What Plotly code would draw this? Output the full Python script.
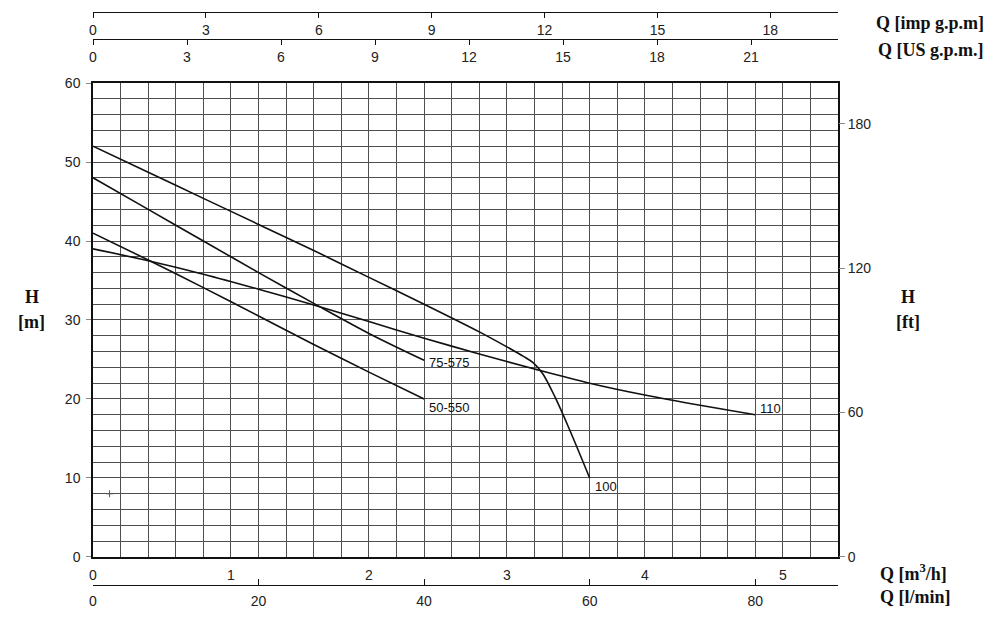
"""Pump performance curves H vs Q, with secondary unit axes."""

import plotly.graph_objects as go

# Flow in m3/h, head in m
q_50_550 = [0, 0.4, 0.8, 1.2, 1.6, 2.0, 2.4]
h_50_550 = [41, 37.6, 34.1, 30.5, 26.9, 23.4, 20]

q_75_575 = [0, 0.4, 0.8, 1.2, 1.6, 2.0, 2.4]
h_75_575 = [48, 44, 40, 36, 32.1, 28.3, 24.9]

q_100 = [0, 0.4, 0.8, 1.2, 1.6, 2.0, 2.4, 2.8, 3.0, 3.12, 3.19, 3.26, 3.35, 3.45, 3.6]
h_100 = [52, 48.7, 45.4, 42.1, 38.8, 35.4, 32.0, 28.5, 26.6, 25.4, 24.6, 23.2, 20.2, 16.3, 10]

q_110 = [0, 0.4, 0.8, 1.2, 1.6, 2.0, 2.4, 2.8, 3.2, 3.6, 4.0, 4.4, 4.8]
h_110 = [39, 37.5, 35.8, 33.9, 31.9, 29.8, 27.7, 25.7, 23.8, 22.0, 20.5, 19.2, 18.0]

curve_names = ['50-550', '75-575', '100', '110']

# small stray mark on the scan
mark_q = [0.12]
mark_h = [8]

# axis ticks
m3h_ticks = [0, 1, 2, 3, 4, 5]
lmin_ticks = [0, 20, 40, 60, 80]
imp_ticks = [0, 3, 6, 9, 12, 15, 18]
us_ticks = [0, 3, 6, 9, 12, 15, 18, 21]
ft_ticks = [0, 60, 120, 180]

Q_MAX = 5.4      # m3/h
H_MAX = 60       # m
LMIN_MAX = Q_MAX * 1000 / 60

TICK_FONT = dict(family='Liberation Sans, Arial, sans-serif', size=14, color='#222')
TITLE_FONT = dict(family='Liberation Serif, Times New Roman, serif', size=18, color='#111')
GRID = '#4e4e4e'

curves = [(q_50_550, h_50_550), (q_75_575, h_75_575), (q_100, h_100), (q_110, h_110)]
label_shift = [-9, -2, -9, 6]

fig = go.Figure()

for (q, h) in curves:
    fig.add_trace(go.Scatter(x=q, y=h, mode='lines',
                             line=dict(color='#111', width=1.6, shape='spline', smoothing=0.9),
                             hoverinfo='skip'))

fig.add_trace(go.Scatter(x=mark_q, y=mark_h, mode='markers', hoverinfo='skip',
                         marker=dict(symbol='cross-thin', size=5, line=dict(width=1, color='#555'))))

# dummy traces so every extra axis gets drawn
for xa, ya in [('x2', 'y'), ('x3', 'y'), ('x4', 'y'), ('x', 'y2')]:
    fig.add_trace(go.Scatter(x=[0], y=[0], xaxis=xa, yaxis=ya, mode='markers',
                             marker=dict(opacity=0), hoverinfo='skip'))

# curve labels at the end of each curve
for name, (q, h), dy in zip(curve_names, curves, label_shift):
    fig.add_annotation(x=q[-1], y=h[-1], text=name, showarrow=False,
                       xanchor='left', yanchor='middle', xshift=3, yshift=dy,
                       font=dict(family='Liberation Sans, Arial, sans-serif', size=13, color='#111'))


# axis titles
def title(text, x, y, xanchor):
    fig.add_annotation(x=x, y=y, xref='paper', yref='paper', text='<b>' + text + '</b>',
                       showarrow=False, xanchor=xanchor, yanchor='middle', font=TITLE_FONT)


title('Q [imp g.p.m]', 1.199, 0.976, 'right')
title('Q [US g.p.m.]', 1.199, 0.932, 'right')
title('Q [m<sup>3</sup>/h]', 1.054, 0.086, 'left')
title('Q [l/min]', 1.054, 0.047, 'left')
title('H', -0.082, 0.532, 'center')
title('[m]', -0.082, 0.492, 'center')
title('H', 1.094, 0.532, 'center')
title('[ft]', 1.094, 0.492, 'center')

fig.update_layout(
    width=1000, height=618,
    margin=dict(l=85, r=170, t=0, b=0, autoexpand=False),
    paper_bgcolor='white', plot_bgcolor='white',
    showlegend=False,
    font=TICK_FONT,
    xaxis=dict(domain=[0, 1], range=[0, Q_MAX], tickvals=m3h_ticks, ticks='',
               ticklabelstandoff=4,
               showgrid=True, gridcolor=GRID, gridwidth=1,
               minor=dict(dtick=0.2, tick0=0, showgrid=True, gridcolor=GRID, gridwidth=1),
               showline=True, mirror=True, linecolor='#111', linewidth=1.5,
               zeroline=False, tickfont=TICK_FONT),
    yaxis=dict(domain=[0.1117, 0.8786], range=[0, H_MAX], dtick=10,
               ticks='outside', ticklen=5, tickcolor='#888', ticklabelstandoff=3,
               showgrid=True, gridcolor=GRID, gridwidth=1,
               minor=dict(dtick=2, showgrid=True, gridcolor=GRID, gridwidth=1),
               showline=True, mirror=True, linecolor='#111', linewidth=1.5,
               zeroline=False, tickfont=TICK_FONT),
    yaxis2=dict(overlaying='y', side='right', range=[0, H_MAX / 0.3048],
                tickvals=ft_ticks, ticks='outside', ticklen=6, tickcolor='#888',
                showgrid=False, zeroline=False, showline=False, tickfont=TICK_FONT),
    xaxis2=dict(overlaying='x', anchor='free', position=0.0663, side='bottom',
                range=[0, LMIN_MAX], tickvals=lmin_ticks, ticks='inside', ticklen=6,
                ticklabelstandoff=3,
                tickcolor='#111', showline=True, linecolor='#111', linewidth=1.3,
                showgrid=False, zeroline=False, tickfont=TICK_FONT),
    xaxis3=dict(overlaying='x', anchor='free', position=0.9935, side='bottom',
                range=[0, LMIN_MAX / 4.54609], tickvals=imp_ticks, ticks='outside',
                ticklen=5, tickcolor='#111',
                showline=True, linecolor='#111', linewidth=1.3,
                showgrid=False, zeroline=False, tickfont=TICK_FONT),
    xaxis4=dict(overlaying='x', anchor='free', position=0.9498, side='bottom',
                range=[0, LMIN_MAX / 3.78541], tickvals=us_ticks, ticks='outside',
                ticklen=5, tickcolor='#111',
                showline=True, linecolor='#111', linewidth=1.3,
                showgrid=False, zeroline=False, tickfont=TICK_FONT),
)

fig.write_html("out.html")
